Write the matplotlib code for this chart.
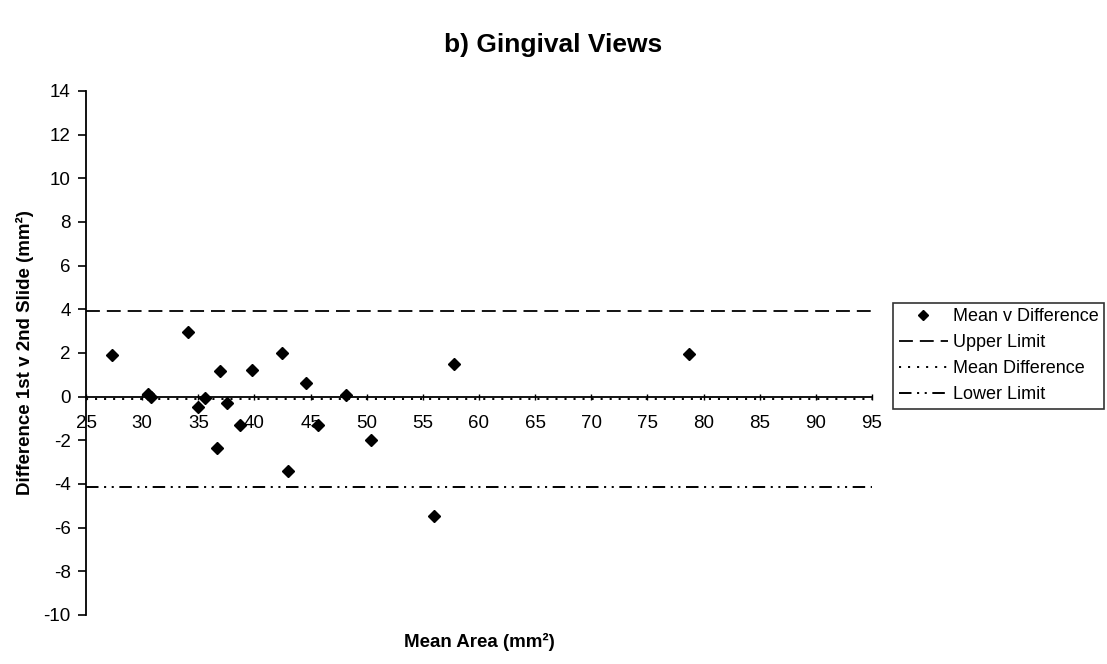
import numpy as np
import matplotlib.pyplot as plt
import matplotlib

matplotlib.rcParams['font.family'] = ['Liberation Sans', 'DejaVu Sans']
matplotlib.rcParams['lines.scale_dashes'] = False
matplotlib.rcParams['axes.unicode_minus'] = False

# mean of the two slides vs their difference
mean_area = [27.3, 30.5, 30.8, 34.05, 35.0, 35.6, 36.9, 36.7, 37.6, 38.7,
             39.8, 42.45, 43.0, 44.55, 45.7, 48.15, 50.4, 55.96, 57.8, 78.7]
difference = [1.9, 0.14, 0.0, 2.98, -0.47, -0.06, 1.17, -2.36, -0.31, -1.28,
              1.24, 2.01, -3.40, 0.60, -1.32, 0.09, -1.97, -5.47, 1.47, 1.95]

# agreement limits
upper_limit = 3.9
mean_diff = -0.13
lower_limit = -4.16

x_range = [25, 95]
x_ticks = list(range(25, 100, 5))
y_ticks = list(range(-10, 16, 2))

fig = plt.figure(figsize=(11.07, 6.64), dpi=100)
ax = fig.add_axes([0.0777, 0.074, 0.7100, 0.789])

ax.plot(mean_area, difference, linestyle='none', marker='D', markersize=6,
        color='black', label='Mean v Difference')
ax.plot(x_range, [upper_limit, upper_limit], color='black', lw=1.3,
        dashes=(10, 5), label='Upper Limit')
ax.plot(x_range, [mean_diff, mean_diff], color='black', lw=1.4,
        dashes=(1.5, 5), label='Mean Difference')
ax.plot(x_range, [lower_limit, lower_limit], color='black', lw=1.4,
        dashes=(9, 4, 1.5, 4, 1.5, 4), label='Lower Limit')

ax.set_xlim(25, 95)
ax.set_ylim(-10, 14)
ax.set_xticks(x_ticks)
ax.set_yticks(y_ticks)

# axis crosses at zero
ax.spines['bottom'].set_position(('data', 0))
ax.spines['top'].set_visible(False)
ax.spines['right'].set_visible(False)
ax.spines['left'].set_linewidth(1.3)
ax.spines['bottom'].set_linewidth(1.3)
ax.tick_params(axis='y', direction='out', length=6, width=1.2, pad=5,
               labelsize=13.5)
ax.tick_params(axis='x', direction='inout', length=4, width=1, pad=11,
               labelsize=13.5)

fig.text(0.5, 0.932, 'b) Gingival Views', fontsize=19, fontweight='bold',
         ha='center', va='center')
ax.set_xlabel('Mean Area (mm²)', fontsize=13.5, fontweight='bold')
ax.xaxis.set_label_coords(0.5, -0.035)
ax.set_ylabel('Difference 1st v 2nd Slide (mm²)', fontsize=13.5,
              fontweight='bold')
ax.yaxis.set_label_coords(-0.066, 0.5)

leg = fig.legend(loc='upper left', bbox_to_anchor=(0.807, 0.544),
                 fontsize=13, frameon=True, fancybox=False, edgecolor='black',
                 handlelength=2.7, handletextpad=0.3, labelspacing=0.5,
                 borderpad=0.3, borderaxespad=0, markerscale=0.8)
leg.get_frame().set_linewidth(1.2)

plt.savefig('out.png', dpi=100)
plt.close()
